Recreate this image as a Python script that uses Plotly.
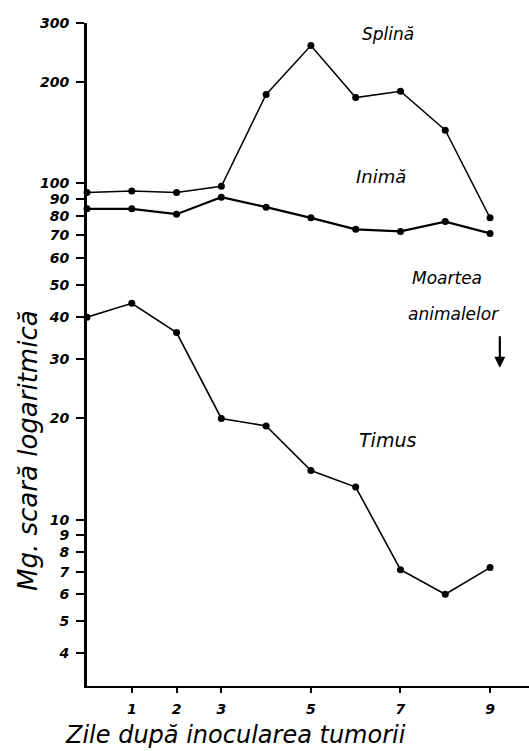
import math
import plotly.graph_objects as go

days = [0, 1, 2, 3, 4, 5, 6, 7, 8, 9]
splina = [94, 95, 94, 98, 184, 257, 180, 188, 144, 79]
inima = [84, 84, 81, 91, 85, 79, 73, 72, 77, 71]
timus = [40, 44, 36, 20, 19, 14, 12.5, 7.1, 6, 7.2]

x_ticks = [1, 2, 3, 5, 7, 9]
y_ticks = [4, 5, 6, 7, 8, 9, 10, 20, 30, 40, 50, 60, 70, 80, 90, 100, 200, 300]

FONT = "DejaVu Sans"

fig = go.Figure()
for vals, w in [(splina, 1.5), (inima, 2.2), (timus, 1.6)]:
    fig.add_trace(go.Scatter(
        x=days, y=vals, mode="lines+markers",
        line=dict(color="black", width=w),
        marker=dict(color="black", size=7),
        showlegend=False, cliponaxis=False))

fig.update_layout(
    width=529, height=751,
    margin=dict(l=87, r=0, t=23, b=65),
    paper_bgcolor="white", plot_bgcolor="white",
    font=dict(family=FONT, color="black"),
    xaxis=dict(range=[0, 9.87], showgrid=False, zeroline=False,
               showline=True, linecolor="black", linewidth=2,
               tickvals=x_ticks, ticktext=[str(v) for v in x_ticks],
               ticks="outside", ticklen=5, tickwidth=1.5, tickcolor="black",
               ticklabelstandoff=4,
               tickfont=dict(family=FONT, size=14, style="italic", weight="bold")),
    yaxis=dict(type="log", range=[math.log10(3.2), math.log10(300)],
               showgrid=False, zeroline=False,
               showline=True, linecolor="black", linewidth=3,
               tickvals=y_ticks, ticktext=[str(v) for v in y_ticks],
               ticks="outside", ticklen=8, tickwidth=2, tickcolor="black",
               ticklabelstandoff=4,
               tickfont=dict(family=FONT, size=14, style="italic", weight="bold")),
)

def note(text, x, y, size, **kw):
    fig.add_annotation(text=text, x=x, y=y, xref="paper", yref="paper",
                       xanchor="center", yanchor="middle",
                       showarrow=False, font=dict(family=FONT, size=size, style="italic", color="black"),
                       **kw)

note("Splină", 0.681, 0.983, 17)
note("Inimă", 0.665, 0.768, 18)
note("Moartea", 0.814, 0.615, 17)
note("animalelor", 0.830, 0.561, 17)
note("Timus", 0.680, 0.371, 19)
note("Mg. scară logaritmică", -0.1335, 0.356, 26, textangle=-90)
note("Zile după inocularea tumorii", 0.337, -0.074, 24)

fig.add_annotation(x=0.934, y=0.480, xref="paper", yref="paper", text="",
                   showarrow=True, ax=0, ay=-33, arrowhead=2, arrowsize=1,
                   arrowwidth=2.2, arrowcolor="black")

fig.write_html("out.html")
